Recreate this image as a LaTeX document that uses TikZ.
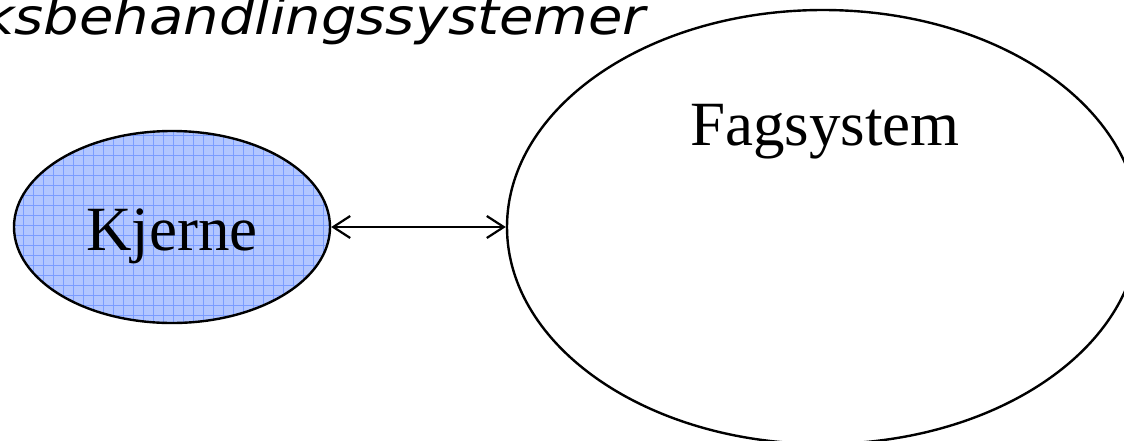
\documentclass[tikz,border=0pt]{standalone}
\usepackage{fontspec}
\setmainfont{Liberation Serif}
\newfontfamily\titlefont{DejaVu Sans}
\usetikzlibrary{shapes.geometric,arrows.meta}
\definecolor{kfill}{RGB}{178,198,255}
\definecolor{kgrid}{RGB}{122,156,255}
\tikzset{
  outline/.style={draw=black, line width=2.4pt, ellipse, inner sep=0pt},
  label/.style={font=\fontsize{63}{70}\selectfont, inner sep=0pt, anchor=base},
  link/.style={line width=2.2pt, {Straight Barb[length=17pt,width=22pt,line width=2.2pt]}-{Straight Barb[length=17pt,width=22pt,line width=2.2pt]}},
  gridline/.style={kgrid, line width=1pt}
}
\begin{document}
\begin{tikzpicture}[x=1pt,y=-1pt]
\useasboundingbox (0,0) rectangle (1124,440);
\fill[white] (0,0) rectangle (1124,440);
\clip (0,0) rectangle (1124,440);
% title (cut off at the left edge)
\node[font=\titlefont\fontsize{50}{56}\selectfont\itshape, inner sep=0pt, anchor=base east, xscale=1.12] (title) at (646,34) {Saksbehandlingssystemer};
% Kjerne fill with grid pattern
\begin{scope}
  \clip (172,227) ellipse [x radius=158, y radius=96];
  \fill[kfill] (0,120) rectangle (340,330);
  \foreach \i in {0,...,34} {
    \draw[gridline] (\i*10+3,120) -- (\i*10+3,330);
  }
  \foreach \j in {0,...,21} {
    \draw[gridline] (0,\j*10+125) -- (340,\j*10+125);
  }
\end{scope}
\node[outline, minimum width=316pt, minimum height=192pt] (kjerne) at (172,227) {};
\node[outline, minimum width=632pt, minimum height=434pt] (fag) at (823,227) {};
\node[label] (kjernetext) at (172,250) {Kjerne};
\node[label] (fagtext) at (825,145) {Fagsystem};
\draw[link] (kjerne.east) -- (fag.west);
\end{tikzpicture}
\end{document}
